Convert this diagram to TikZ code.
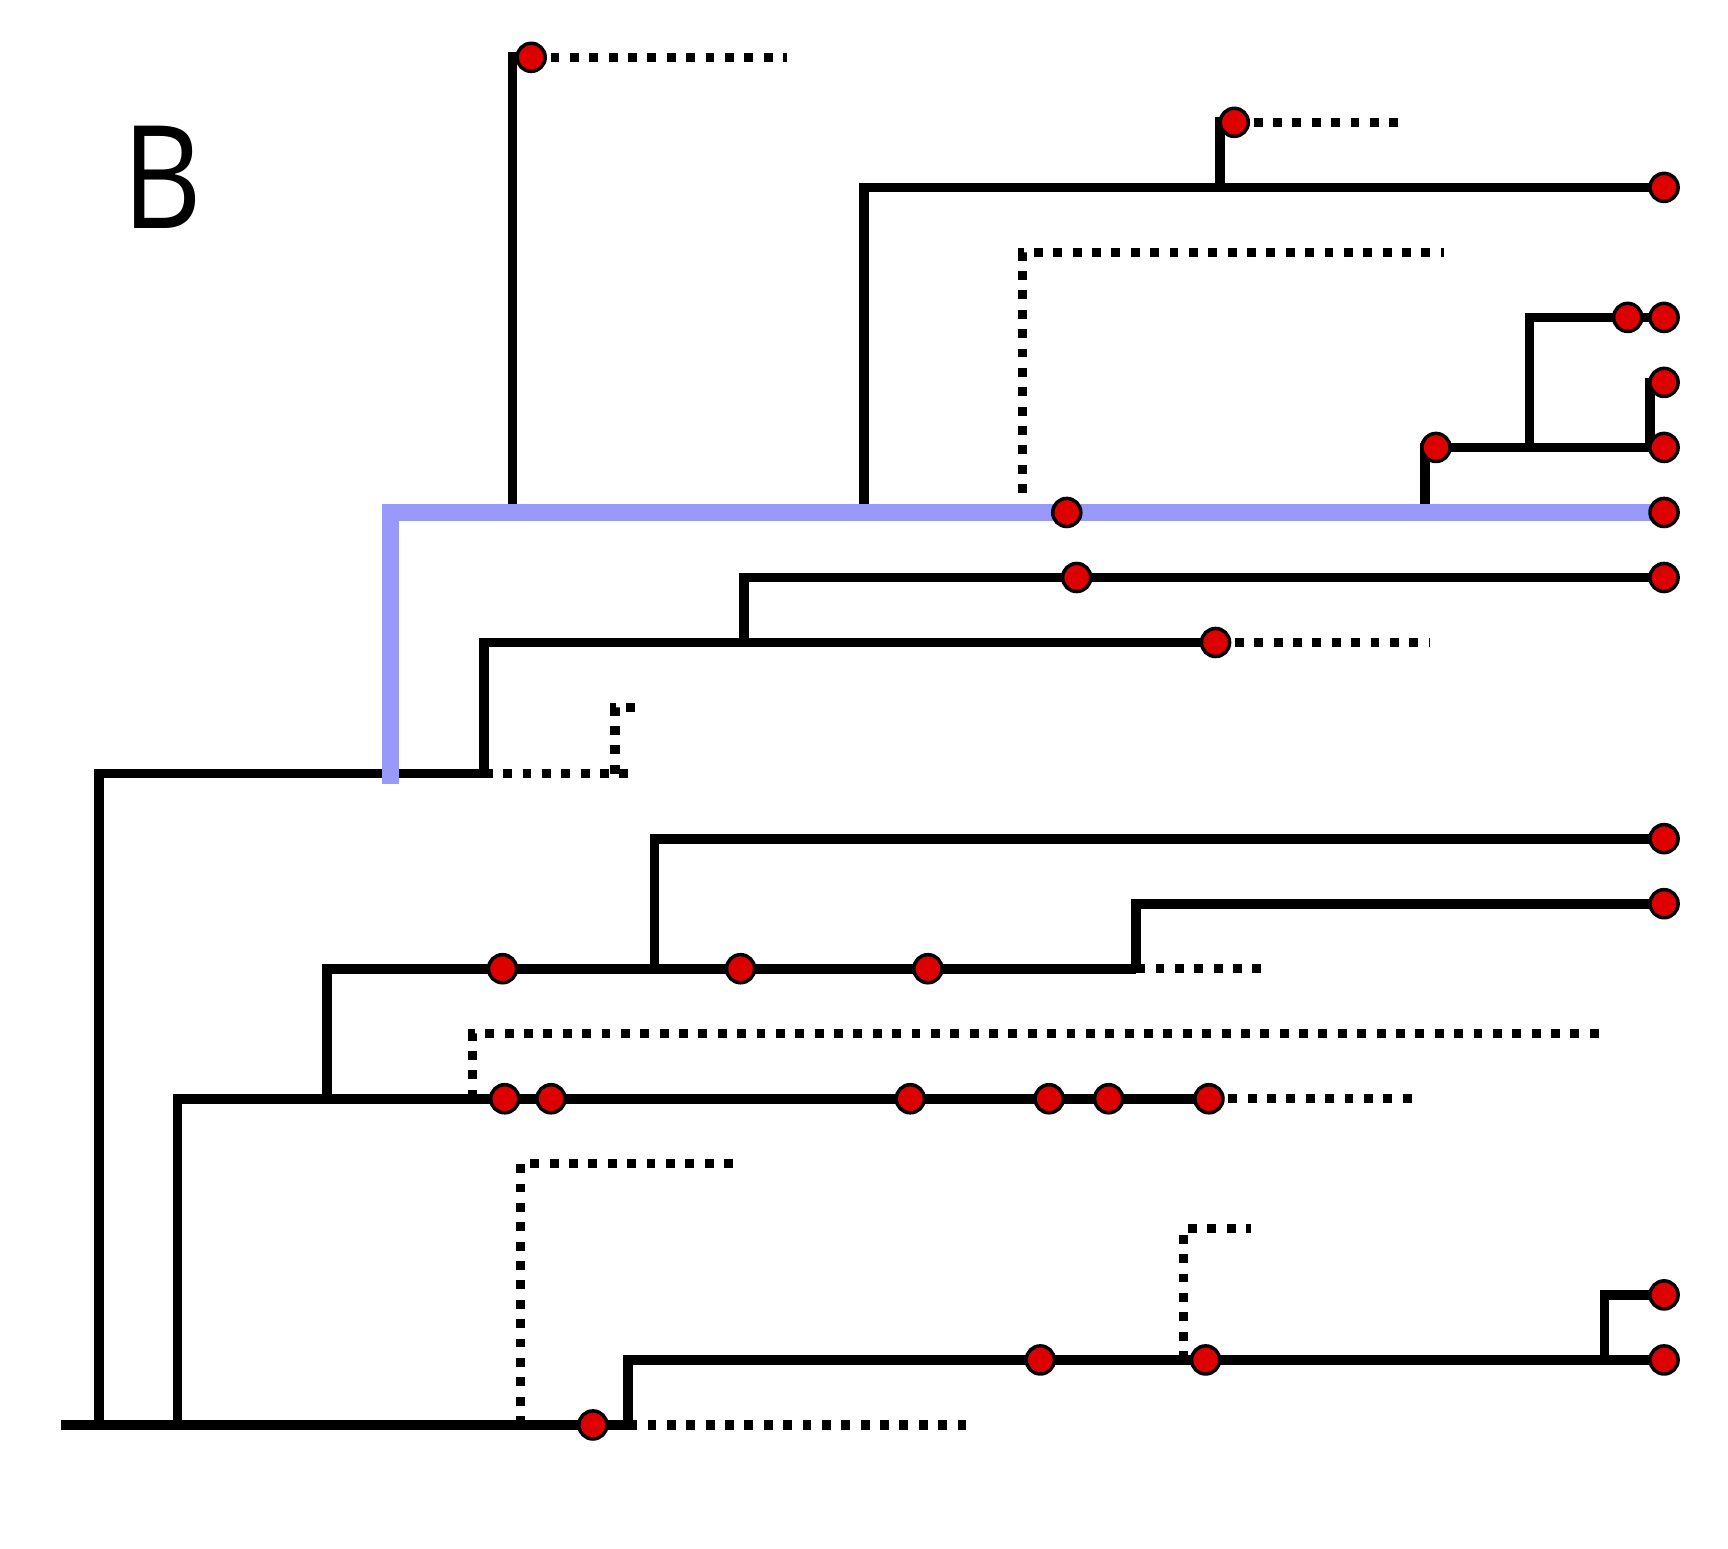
\documentclass[tikz,border=0pt]{standalone}
\usepackage{fontspec}
\setmainfont{Open Sans}
\usepackage{tikz}
\definecolor{tipred}{RGB}{221,0,0}
\definecolor{trailblue}{RGB}{153,153,250}

\begin{document}
\begin{tikzpicture}[x=0.01cm,y=-0.01cm]
  \tikzstyle{branch}=[draw,line width=2.5pt]
  \tikzstyle{lost}=[draw,line width=2.4pt,dash pattern=on 2.3pt off 2.7pt]
  \tikzstyle{trail}=[draw,trailblue,line width=4.4pt]
  \tikzstyle{tip}=[circle,draw,fill=tipred,line width=0.9pt,minimum size=2.55mm,inner sep=0pt]
  \useasboundingbox (0,0) rectangle (1568,1405);

  \node (panel) at (147,161) {\fontsize{37pt}{40pt}\selectfont\scalebox{0.86}[1]{B}};

  % sampled tips
  \coordinate (t52) at (482,52);
  \coordinate (t111) at (1120,111);
  \coordinate (t170) at (1510,170);
  \coordinate (t288a) at (1477,288);
  \coordinate (t288b) at (1510,288);
  \coordinate (t347) at (1510,347);
  \coordinate (t406a) at (1303,406);
  \coordinate (t406b) at (1510,406);
  \coordinate (t465a) at (968,465);
  \coordinate (t465b) at (1510,465);
  \coordinate (t524a) at (977,524);
  \coordinate (t524b) at (1510,524);
  \coordinate (t583) at (1103,583);
  \coordinate (t761) at (1510,761);
  \coordinate (t820) at (1510,820);
  \coordinate (t879a) at (456,879);
  \coordinate (t879b) at (672,879);
  \coordinate (t879c) at (842,879);
  \coordinate (t997a) at (458,997);
  \coordinate (t997b) at (500,997);
  \coordinate (t997c) at (826,997);
  \coordinate (t997d) at (952,997);
  \coordinate (t997e) at (1006,997);
  \coordinate (t997f) at (1097,997);
  \coordinate (t1175) at (1510,1175);
  \coordinate (t1234a) at (944,1234);
  \coordinate (t1234b) at (1094,1234);
  \coordinate (t1234c) at (1510,1234);
  \coordinate (t1293) at (538,1293);

  % branch points
  \coordinate (root) at (55,1293);
  \coordinate (j90) at (90,1293);
  \coordinate (j161) at (161,1293);
  \coordinate (j472) at (472,1293);
  \coordinate (j570) at (570,1293);
  \coordinate (j439) at (439,702);
  \coordinate (j558) at (558,702);
  \coordinate (j675) at (675,583);
  \coordinate (j465) at (465,465);
  \coordinate (j784) at (784,465);
  \coordinate (j928) at (928,465);
  \coordinate (j1293) at (1293,465);
  \coordinate (j1107) at (1107,170);
  \coordinate (j1388) at (1388,406);
  \coordinate (j1497) at (1497,406);
  \coordinate (j297) at (297,997);
  \coordinate (j429) at (429,997);
  \coordinate (j594) at (594,879);
  \coordinate (j1031) at (1031,879);
  \coordinate (j1074) at (1074,1234);
  \coordinate (j1456) at (1456,1234);
  \coordinate (b0) at (354,711);

  % ends of lost lineages
  \coordinate (e52) at (714,52);
  \coordinate (e111) at (1276,111);
  \coordinate (e229) at (1310,229);
  \coordinate (e583) at (1297,583);
  \coordinate (e642) at (580,642);
  \coordinate (e702) at (575,702);
  \coordinate (e879) at (1150,879);
  \coordinate (e938) at (1455,938);
  \coordinate (e997) at (1290,997);
  \coordinate (e1056) at (665,1056);
  \coordinate (e1115) at (1135,1115);
  \coordinate (e1293) at (878,1293);

  % dotted
  \draw[lost] (t52) -- (e52);
  \draw[lost] (t111) -- (e111);
  \draw[lost] (j928) |- (e229);
  \draw[lost] (t583) -- (e583);
  \draw[lost] (j439) -- (e702);
  \draw[lost] (j558) |- (e642);
  \draw[lost] (j1031) -- (e879);
  \draw[lost] (j429) |- (e938);
  \draw[lost] (t997f) -- (e997);
  \draw[lost] (j472) |- (e1056);
  \draw[lost] (j1074) |- (e1115);
  \draw[lost] (j570) -- (e1293);

  % upper clade
  \draw[branch] (root) -- (j570);
  \draw[branch] (j90) |- (j439);
  \draw[branch] (j439) |- (t583);
  \draw[branch] (j675) |- (t524b);
  \draw[branch] (j465) |- (t52);
  \draw[branch] (j784) |- (t170);
  \draw[branch] (j1107) |- (t111);
  \draw[branch] (j1293) |- (t406b);
  \draw[branch] (j1388) |- (t288b);
  \draw[branch] (j1497) |- (t347);

  % lower clade
  \draw[branch] (j161) |- (t997f);
  \draw[branch] (j297) |- (j1031);
  \draw[branch] (j594) |- (t761);
  \draw[branch] (j1031) |- (t820);
  \draw[branch] (j570) |- (t1234c);
  \draw[branch] (j1456) |- (t1175);

  \draw[trail] (b0) |- (t465b);

  \foreach \t in {t52,t111,t170,t288a,t288b,t347,t406a,t406b,t465a,t465b,
    t524a,t524b,t583,t761,t820,t879a,t879b,t879c,t997a,t997b,t997c,
    t997d,t997e,t997f,t1175,t1234a,t1234b,t1234c,t1293}
    \node[tip] (dot-\t) at (\t) {};
\end{tikzpicture}
\end{document}
